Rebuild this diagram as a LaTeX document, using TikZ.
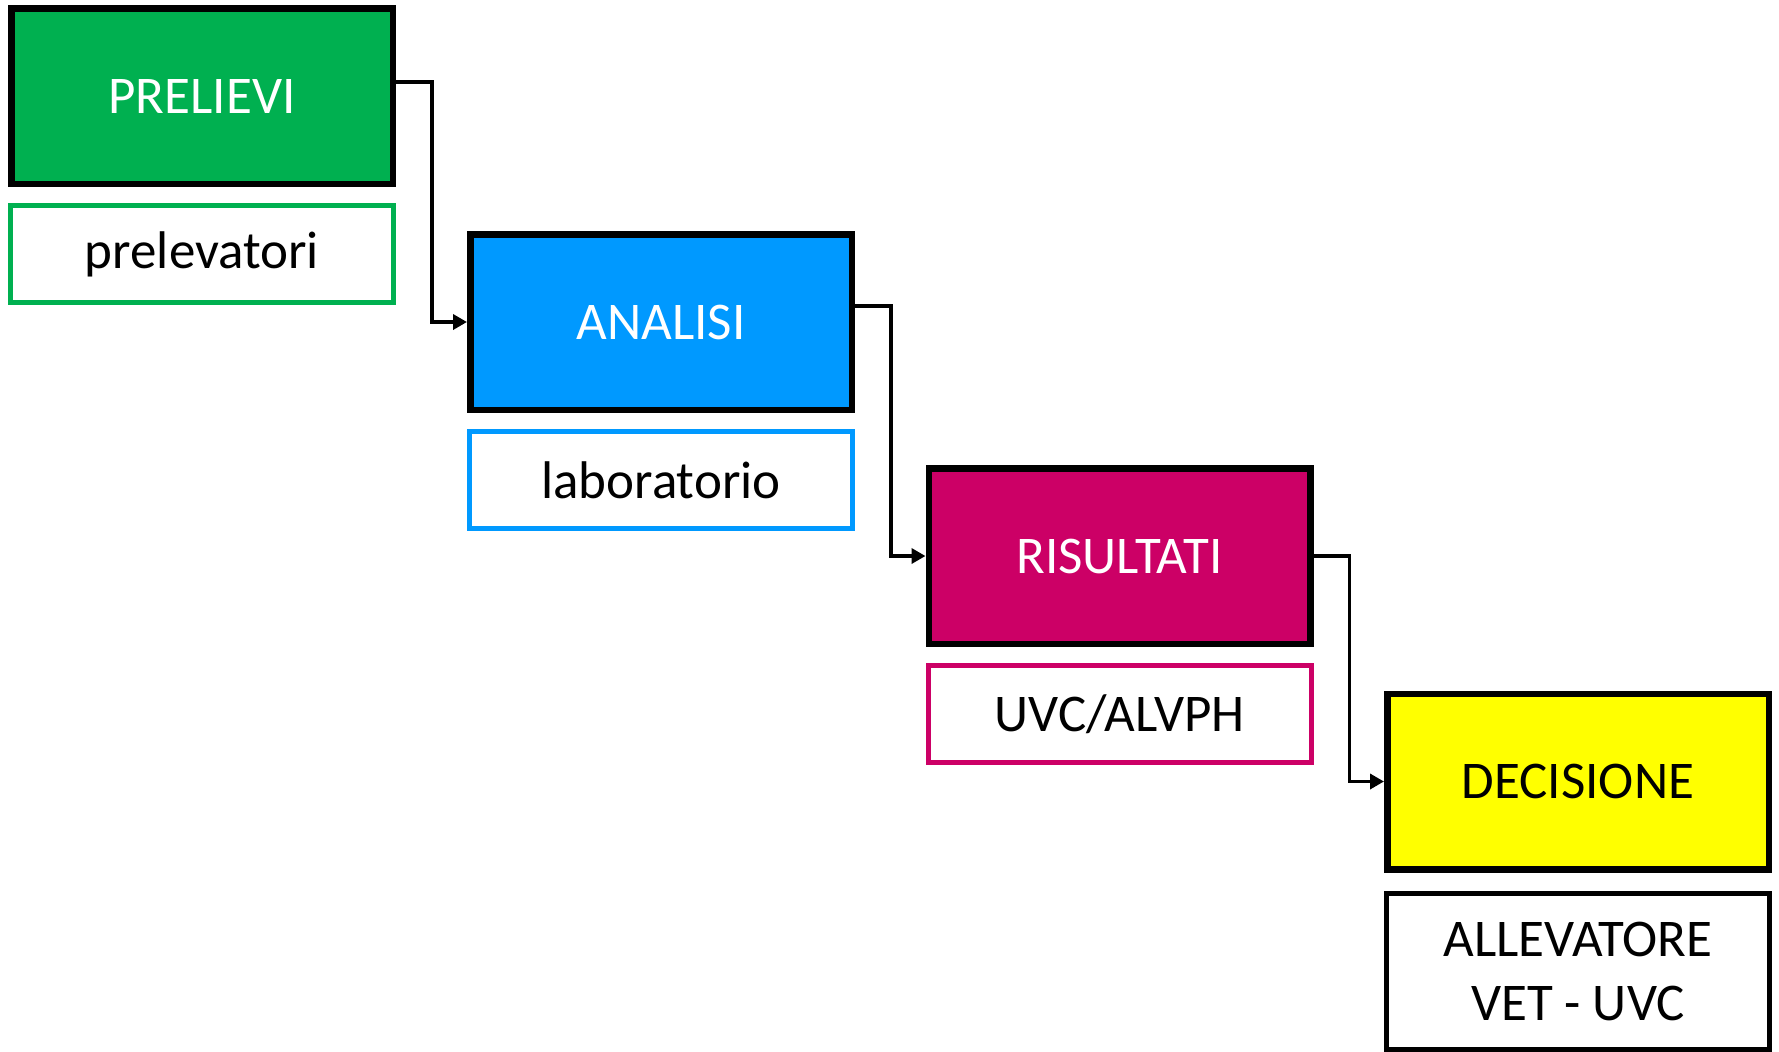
\documentclass[tikz,border=0pt]{standalone}
\usepackage{fontspec}
\setmainfont{Carlito}
\usetikzlibrary{arrows.meta,positioning}
\definecolor{verde}{HTML}{00B050}
\definecolor{azzurro}{HTML}{0099FF}
\definecolor{magenta}{HTML}{CC0066}
\definecolor{giallo}{HTML}{FFFF00}

\begin{document}
\begin{tikzpicture}[x=0.5pt,y=-0.5pt,font=\fontsize{26.5}{32}\selectfont,
	fase/.style={draw=black,line width=3.25pt,minimum width=190.75pt,minimum height=87.75pt,inner sep=0pt,text=white},
	chi/.style={draw,line width=2.5pt,minimum width=191.5pt,minimum height=48.5pt,inner sep=0pt,fill=white,align=center},
	flow/.style={line width=1.75pt,-{Triangle[length=7pt,width=7.5pt]}}]
	\useasboundingbox (0,0) rectangle (1779,1051);
	\node[fase,fill=verde] (prelievi) at (202,96) {PRELIEVI};
	\node[fase,fill=azzurro] (analisi) at (661,322) {ANALISI};
	\node[fase,fill=magenta] (risultati) at (1119.5,556) {RISULTATI};
	\node[fase,fill=giallo,text=black] (decisione) at (1578,781.5) {DECISIONE};
	\node[chi,draw=verde,below=8pt of prelievi] (prelevatori) {prelevatori};
	\node[chi,draw=azzurro,below=8pt of analisi] (laboratorio) {laboratorio};
	\node[chi,draw=magenta,below=8pt of risultati] (uvc) {UVC/ALVPH};
	\node[chi,draw=black,minimum height=78pt,below=9pt of decisione] (allevatore) {ALLEVATORE\\VET - UVC};
	\draw[flow] ([yshift=7pt]prelievi.east) -- ++(18pt,0) |- (analisi.west);
	\draw[flow] ([yshift=8pt]analisi.east) -- ++(18pt,0) |- (risultati.west);
	\draw[flow] (risultati.east) -- ++(18pt,0) |- (decisione.west);
\end{tikzpicture}
\end{document}
